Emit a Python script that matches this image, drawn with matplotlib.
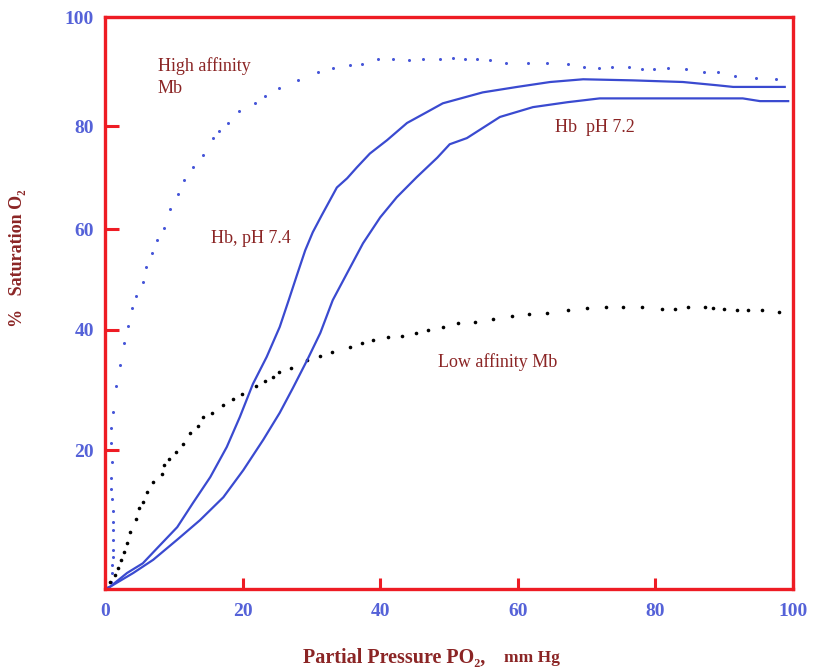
"""
Oxygen saturation curves: myoglobin (high / low affinity) vs haemoglobin at two pH values.
"""

import numpy as np
import matplotlib
matplotlib.use("Agg")
import matplotlib.pyplot as plt

# ── data ──────────────────────────────────────────────────────────────────────
mb_high_x = [0.9, 1.0, 1.0, 1.1, 1.1, 1.2, 1.2, 1.2, 1.2, 1.0, 0.9, 0.8, 1.0, 0.9, 0.9,
             1.2, 1.6, 2.2, 2.8, 3.3, 3.9, 4.5, 5.5, 6.0, 6.8, 7.6, 8.6, 9.4, 10.6, 11.5,
             12.8, 14.2, 15.7, 16.6, 17.9, 19.5, 21.8, 23.3, 25.3, 28.1, 31.0, 33.1, 35.6,
             37.4, 39.7, 41.9, 44.2, 46.2, 48.7, 50.6, 52.3, 54.1, 56.0, 58.3, 61.5, 64.2,
             67.3, 69.6, 71.8, 73.7, 76.2, 78.1, 79.8, 81.8, 84.4, 87.1, 89.1, 91.6, 94.6, 97.5]
mb_high_y = [1.0, 2.3, 3.5, 4.6, 5.6, 7.1, 8.5, 9.6, 11.2, 13.0, 14.4, 16.0, 18.3, 21.2, 23.7,
             26.3, 30.7, 34.2, 37.8, 40.8, 44.4, 46.7, 49.5, 52.5, 55.2, 57.8, 60.2, 63.9, 66.8, 69.5,
             72.0, 74.4, 77.7, 79.0, 80.6, 82.8, 84.2, 85.5, 87.0, 88.4, 89.9, 90.6, 91.2,
             91.4, 92.3, 92.3, 92.1, 92.3, 92.3, 92.5, 92.3, 92.3, 92.1, 91.6, 91.6, 91.6,
             91.4, 90.8, 90.6, 90.8, 90.8, 90.5, 90.5, 90.6, 90.5, 89.9, 89.9, 89.2, 88.8, 88.6]

mb_low_x = [0.7, 1.5, 1.9, 2.3, 2.8, 3.2, 3.6, 4.5, 4.9, 5.5, 6.1, 7.0, 8.3, 8.6, 9.3, 10.3,
            11.3, 12.4, 13.5, 14.2, 15.6, 17.2, 18.6, 19.9, 21.9, 23.3, 24.4, 25.3, 27.0, 29.4,
            31.3, 33.0, 35.6, 37.4, 39.0, 41.1, 43.2, 45.2, 46.9, 49.1, 51.3, 53.8, 56.4, 59.2,
            61.6, 64.2, 67.3, 70.1, 72.8, 75.3, 78.1, 81.0, 82.8, 84.7, 87.2, 88.4, 90.0, 91.9,
            93.5, 95.5, 98.0]
mb_low_y = [1.0, 2.0, 3.0, 4.2, 5.3, 6.6, 8.2, 10.1, 11.7, 12.5, 14.0, 15.4, 16.5, 17.8, 18.7, 19.7,
            21.0, 22.8, 24.0, 25.5, 26.2, 27.5, 28.5, 29.3, 30.7, 31.5, 32.2, 33.0, 33.7, 35.0,
            35.7, 36.3, 37.2, 37.8, 38.3, 38.8, 39.0, 39.5, 40.0, 40.6, 41.4, 41.6, 42.2, 42.8,
            43.2, 43.4, 44.0, 44.4, 44.6, 44.6, 44.6, 44.2, 44.2, 44.6, 44.6, 44.4, 44.2, 44.0,
            44.0, 44.0, 43.6]

hb74_x = [0.0, 0.7, 3.2, 5.5, 7.7, 10.5, 12.8, 15.3, 17.7, 19.6, 21.5, 23.5, 25.4, 26.7, 27.9,
          29.1, 30.2, 31.5, 33.7, 35.2, 36.6, 38.5, 41.0, 43.9, 46.8, 49.1, 54.9, 59.9,
          64.7, 69.5, 76.7, 84.0, 89.0, 91.3, 98.8]
hb74_y = [0.0, 0.3, 2.3, 3.7, 6.0, 8.9, 12.4, 16.1, 20.5, 25.5, 31.0, 35.5, 40.6, 45.9, 50.9,
          55.8, 59.4, 62.7, 68.1, 69.9, 72.0, 74.7, 77.3, 80.6, 82.6, 84.2, 86.2, 87.2,
          88.1, 88.6, 88.4, 88.1, 87.5, 87.2, 87.2]

hb72_x = [0.0, 0.7, 4.1, 7.0, 10.5, 13.8, 17.2, 20.1, 23.0, 25.4, 27.3, 29.4, 31.3, 33.1, 35.2,
          37.5, 40.0, 42.4, 45.3, 48.3, 50.1, 52.6, 57.4, 62.2, 67.2, 71.9, 81.7, 92.7, 95.2, 99.3]
hb72_y = [0.0, 0.3, 2.3, 4.2, 7.1, 9.9, 13.2, 17.1, 21.7, 26.2, 30.3, 35.0, 39.5, 45.9, 51.3,
          57.2, 62.3, 66.2, 70.1, 73.9, 76.5, 77.7, 81.7, 83.5, 84.4, 85.1, 85.1, 85.1, 84.6, 84.6]

x_ticks = [0, 20, 40, 60, 80, 100]
y_ticks = [20, 40, 60, 80, 100]

# the printed y axis is not evenly spaced: label value -> fraction of axis height
Y_LABEL_VALS = [0, 20, 40, 60, 80, 100]
Y_AXIS_FRAC = [0, 24.3, 45.3, 62.9, 80.9, 100]

RED = "#ee1c24"
BLUE = "#3a4ad0"
TICK_BLUE = "#5562d8"
DARK_RED = "#8b2525"
SERIF = ["Liberation Serif", "DejaVu Serif"]


def fwd(v):
    return np.interp(v, Y_LABEL_VALS, Y_AXIS_FRAC)


def inv(v):
    return np.interp(v, Y_AXIS_FRAC, Y_LABEL_VALS)


fig = plt.figure(figsize=(8.13, 6.68), dpi=100)
ax = fig.add_axes([105 / 813, 1 - 589 / 668, (793 - 105) / 813, (589 - 17) / 668])
ax.set_yscale("function", functions=(fwd, inv))
ax.set_xlim(0, 100)
ax.set_ylim(0, 100)

ax.plot(mb_high_x, mb_high_y, ls="none", marker="o", ms=2.2, color="#4656d8", mec="none")
ax.plot(mb_low_x, mb_low_y, ls="none", marker="o", ms=2.6, color="black", mec="none")
ax.plot(hb74_x, hb74_y, color=BLUE, lw=1.6, solid_joinstyle="round")
ax.plot(hb72_x, hb72_y, color=BLUE, lw=1.6, solid_joinstyle="round")

for s in ax.spines.values():
    s.set_color(RED)
    s.set_linewidth(2.4)

ax.set_xticks(x_ticks)
ax.set_yticks(y_ticks)
ax.yaxis.set_minor_locator(matplotlib.ticker.NullLocator())
ax.tick_params(axis="x", direction="in", length=8, width=2.2, color=RED, pad=10,
               labelcolor=TICK_BLUE, labelsize=14)
ax.tick_params(axis="y", direction="in", length=10, width=2.2, color=RED, pad=8,
               labelcolor=TICK_BLUE, labelsize=14)
for lab in ax.get_xticklabels() + ax.get_yticklabels():
    lab.set_family(SERIF)
    lab.set_fontweight("bold")

# curve labels
txt = dict(color=DARK_RED, family=SERIF, fontsize=13, va="center", ha="left")
ax.text(7.7, 89.0, "High affinity\nMb", linespacing=1.35, **txt)
ax.text(15.4, 58.2, "Hb, pH 7.4", **txt)
ax.text(65.4, 79.8, "Hb  pH 7.2", **txt)
ax.text(48.4, 34.7, "Low affinity Mb", **txt)

# axis titles
fig.text(303 / 813, 1 - 658 / 668, "Partial Pressure PO\u2082,", color=DARK_RED, family=SERIF,
         fontsize=14.5, fontweight="bold", ha="left", va="center")
fig.text(504 / 813, 1 - 658 / 668, "mm Hg", color=DARK_RED, family=SERIF,
         fontsize=12.5, fontweight="bold", ha="left", va="center")
fig.text(18 / 813, 1 - 258 / 668, "%   Saturation O\u2082", color=DARK_RED, family=SERIF,
         fontsize=13, fontweight="bold", rotation=90, ha="center", va="center")

plt.savefig("out.png", dpi=100)
plt.close()
